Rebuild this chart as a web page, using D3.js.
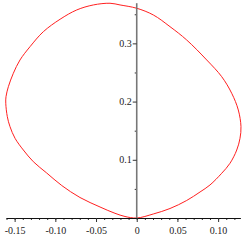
<!DOCTYPE html>
<html>
<head>
<meta charset="utf-8">
<script src="https://cdn.jsdelivr.net/npm/d3@7"></script>
<style>
  body { margin: 0; background: #fff; }
  svg { display: block; }
  .axis text { font-family: "Liberation Serif", "DejaVu Serif", serif; font-size: 10px; fill: #222; }
</style>
</head>
<body>
<div id="chart"></div>
<script>
// closed curve (x, y)
var curveX = [0, 0.0204, 0.0409, 0.0614, 0.0778, 0.0900, 0.1044, 0.1146, 0.1229, 0.1269, 0.1281,
  0.1248, 0.1167, 0.1044, 0.0860, 0.0614, 0.0409, 0.0204, 0, -0.0205,
  -0.0328, -0.0533, -0.0737, -0.0942, -0.1147, -0.1311, -0.1434, -0.1516, -0.1577, -0.1606, -0.1609,
  -0.1590, -0.1557, -0.1495, -0.1393, -0.1270, -0.1106, -0.0921, -0.0697, -0.0451, -0.0267, -0.0144]
var curveY = [0, 0.0069, 0.0163, 0.0301, 0.0447, 0.0567, 0.0768, 0.0940, 0.1168, 0.1369, 0.1569,
  0.1856, 0.2143, 0.2428, 0.2715, 0.3058, 0.3287, 0.3488, 0.3603, 0.3660,
  0.3689, 0.3660, 0.3574, 0.3414, 0.3201, 0.2943, 0.2715, 0.2486, 0.2256, 0.2084, 0.1971,
  0.1741, 0.1569, 0.1369, 0.1168, 0.0967, 0.0773, 0.0558, 0.0352, 0.0189, 0.0081, 0.0026]

var xTicks = [-0.15, -0.10, -0.05, 0, 0.05, 0.10]
var xMinor = d3.range(-16, 13).map(d => d / 100)
var yTicks = [0.1, 0.2, 0.3]
var yMinor = [0.05, 0.15, 0.25, 0.35]

var width = 245, height = 245

var x = d3.scaleLinear().domain([-0.16, 0.128]).range([6.5, 240.9])
var y = d3.scaleLinear().domain([0, 0.369]).range([218, 3.2])

var svg = d3.select("#chart").append("svg")
    .attr("width", width)
    .attr("height", height)

var points = curveX.map((d, i) => [d, curveY[i]])

svg.append("path")
    .datum(points)
    .attr("fill", "none")
    .attr("stroke", "#ff2020")
    .attr("stroke-width", 1)
    .attr("d", d3.line().x(d => x(d[0])).y(d => y(d[1])).curve(d3.curveCatmullRomClosed))

// minor ticks
svg.append("g")
    .attr("class", "axis minor")
    .attr("transform", "translate(0," + y(0) + ")")
    .call(d3.axisBottom(x).tickValues(xMinor).tickSize(2).tickSizeOuter(0).tickFormat(""))
    .call(g => g.select(".domain").remove())

svg.append("g")
    .attr("class", "axis minor")
    .attr("transform", "translate(" + x(0) + ",0)")
    .call(d3.axisLeft(y).tickValues(yMinor).tickSize(2).tickSizeOuter(0).tickFormat(""))
    .call(g => g.select(".domain").remove())

// major ticks + labels
var xAxis = svg.append("g")
    .attr("class", "axis")
    .attr("transform", "translate(0," + y(0) + ")")
    .call(d3.axisBottom(x).tickValues(xTicks).tickSize(4).tickSizeOuter(0)
      .tickFormat(d => d === 0 ? "0" : d3.format(".2f")(d).replace("−", "-")))
xAxis.select(".domain").attr("d", "M" + x(-0.16) + ",0.5H" + x(0.128)).attr("stroke", "#111")
xAxis.selectAll("text").attr("dy", "0.9em")

var yAxis = svg.append("g")
    .attr("class", "axis")
    .attr("transform", "translate(" + x(0) + ",0)")
    .call(d3.axisLeft(y).tickValues(yTicks).tickSize(4).tickSizeOuter(0).tickFormat(d3.format(".1f")))
yAxis.select(".domain").attr("d", "M0," + y(0) + "V" + y(0.369))
    .attr("stroke", "#777").attr("stroke-width", 1.6)
yAxis.selectAll("text").attr("x", -5)

svg.selectAll(".axis line").attr("stroke", "#333")
</script>
</body>
</html>
